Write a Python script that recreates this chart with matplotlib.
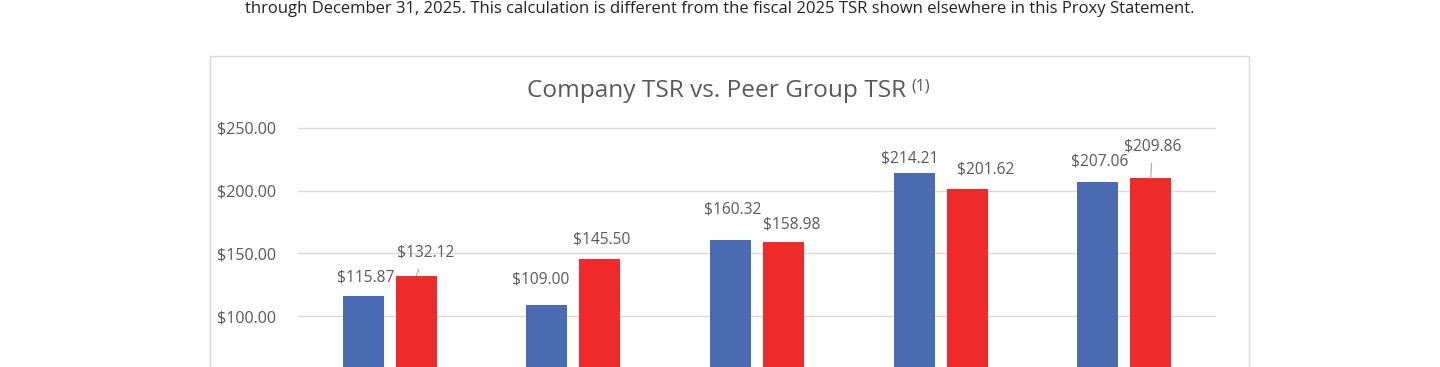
import matplotlib.pyplot as plt
from matplotlib.patches import Rectangle
plt.switch_backend('Agg')

# data
periods = ['2021', '2022', '2023', '2024', '2025']
company_tsr = [115.87, 109.00, 160.32, 214.21, 207.06]
peer_tsr = [132.12, 145.50, 158.98, 201.62, 209.86]
y_ticks = [100, 150, 200, 250]

# label nudges in pixels (dx, dy from bar top), as placed in the original
company_offs = [(2, 19), (-6, 25), (2, 31), (-4, 14), (2, 20)]
peer_offs = [(9, 23), (2, 19), (8, 18), (19, 19), (2, 32)]
peer_leader = [True, False, False, False, True]

BLUE = '#4A6AB2'
RED = '#EE2A2A'
GREY = '#595959'

W, H = 1440, 367
fig = plt.figure(figsize=(W / 100, H / 100), dpi=100)

# note line above the chart (cut off in the source)
fig.text(720 / W, 1 - 9 / H,
         'through December 31, 2025. This calculation is different from the fiscal '
         '2025 TSR shown elsewhere in this Proxy Statement.',
         ha='center', va='center', fontsize=12.0, color='#222222',
         family='Open Sans')

# chart frame (runs past the bottom of the image)
fig.patches.append(Rectangle((210 / W, -0.2), (1249 - 210) / W, (367 - 56) / H + 0.2,
                             transform=fig.transFigure, fill=False,
                             edgecolor='#D9D9D9', linewidth=1.0))

# title
fig.text(527 / W, 1 - 97 / H, 'Company TSR vs. Peer Group TSR',
         ha='left', va='baseline', fontsize=17.6, color=GREY, family='Open Sans')
fig.text(911 / W, 1 - 86.5 / H, '(1)', ha='left', va='center',
         fontsize=11.5, color=GREY, family='Open Sans')

# plot area: 250 sits at y=128px, 100 at y=316px
px_per_unit = (316 - 128) / 150
top_px = 120
ax = fig.add_axes([298 / W, 0, (1216 - 298) / W, (H - top_px) / H])
y_lo = 100 - (H - 316) / px_per_unit
y_hi = y_lo + (H - top_px) / px_per_unit
ax.set_ylim(y_lo, y_hi)
ax.set_xlim(-0.5, len(periods) - 0.5)

x = list(range(len(periods)))
bw = 41 / 183.6
off = 26.5 / 183.6
ax.bar([i - off for i in x], company_tsr, bw, color=BLUE, zorder=2)
ax.bar([i + off for i in x], peer_tsr, bw, color=RED, zorder=2)

ax.set_yticks(y_ticks)
ax.set_yticklabels(['${:,.2f}'.format(v) for v in y_ticks])
ax.grid(axis='y', color='#D9D9D9', linewidth=1.0, zorder=0)
ax.tick_params(axis='y', length=0, pad=15.5, labelsize=11.6, labelcolor=GREY)
for lab in ax.get_yticklabels():
    lab.set_family('Open Sans')
ax.set_xticks([])
for s in ax.spines.values():
    s.set_visible(False)


def put_labels(xs, vals, offs, leaders):
    for xi, v, (dx, dy), lead in zip(xs, vals, offs, leaders):
        if lead:
            ax.annotate('${:,.2f}'.format(v), xy=(xi, v), xytext=(dx, dy),
                        textcoords='offset pixels', ha='center', va='center',
                        fontsize=11.2, color=GREY, family='Open Sans',
                        arrowprops=dict(arrowstyle='-', color='#A6A6A6', lw=0.8,
                                        shrinkA=4.5, shrinkB=0))
        else:
            ax.annotate('${:,.2f}'.format(v), xy=(xi, v), xytext=(dx, dy),
                        textcoords='offset pixels', ha='center', va='center',
                        fontsize=11.2, color=GREY, family='Open Sans')


put_labels([i - off for i in x], company_tsr, company_offs, [False] * len(x))
put_labels([i + off for i in x], peer_tsr, peer_offs, peer_leader)

fig.savefig('out.png', dpi=100)
